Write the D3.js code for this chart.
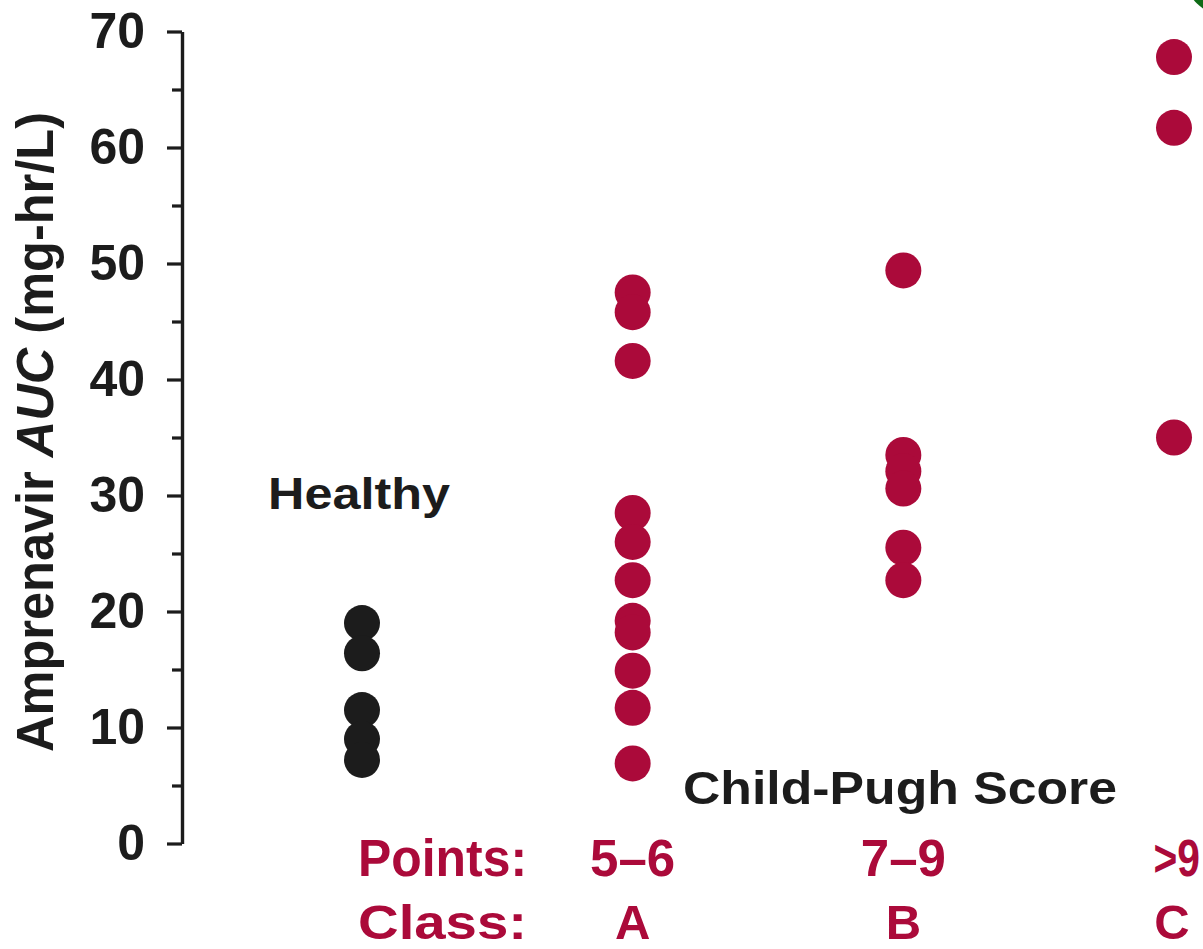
<!DOCTYPE html>
<html>
<head>
<meta charset="utf-8">
<script src="https://cdn.jsdelivr.net/npm/d3@7/dist/d3.min.js"></script>
<style>
  html, body { margin: 0; padding: 0; background: #ffffff; }
  svg { display: block; }
  text { font-family: "Liberation Sans", Arial, Helvetica, sans-serif; font-weight: bold; }
</style>
</head>
<body>
<svg id="chart" width="1203" height="949"></svg>
<script>
// Amprenavir AUC by liver-function group
const groups = ["Healthy", "A", "B", "C"];
const healthyAUC = [19.0, 16.4, 11.5, 9.0, 7.2];
const classA_AUC = [47.5, 45.8, 41.6, 28.5, 26.0, 22.7, 19.2, 18.2, 14.9, 11.7, 6.9];
const classB_AUC = [49.4, 33.5, 32.1, 30.6, 25.5, 22.7];
const classC_AUC = [67.8, 61.7, 35.0];
const pointsLabels = ["5–6", "7–9", ">9"];
const classLabels = ["A", "B", "C"];
const yMajorTicks = [0, 10, 20, 30, 40, 50, 60, 70];
const yMinorTicks = [5, 15, 25, 35, 45, 55, 65];

const RED = "#ab0a3a";
const INK = "#1c1c1c";

const svg = d3.select("#chart");

const x = d3.scalePoint().domain(groups).range([362, 1174]);
const y = d3.scaleLinear().domain([0, 70]).range([843.5, 31.5]);

// flatten values into points
const seriesByGroup = { Healthy: healthyAUC, A: classA_AUC, B: classB_AUC, C: classC_AUC };
const points = [];
groups.forEach(g => seriesByGroup[g].forEach(v => points.push({ group: g, value: v })));

// corner badge
svg.append("circle")
  .attr("cx", 1225).attr("cy", -25).attr("r", 40)
  .attr("fill", "#0e6b16");

// y axis: minor ticks
svg.append("g")
  .attr("transform", "translate(182,0)")
  .call(d3.axisLeft(y).tickValues(yMinorTicks).tickSize(10).tickSizeOuter(0).tickFormat(""))
  .call(g => g.select(".domain").remove())
  .call(g => g.selectAll("line").attr("stroke", INK).attr("stroke-width", 3.2));

// y axis: major ticks and labels
svg.append("g")
  .attr("transform", "translate(182,0)")
  .call(d3.axisLeft(y).tickValues(yMajorTicks).tickSize(15).tickSizeOuter(0).tickPadding(22).tickFormat(d3.format("d")))
  .call(g => g.select(".domain").attr("stroke", INK).attr("stroke-width", 3.4))
  .call(g => g.selectAll("line").attr("stroke", INK).attr("stroke-width", 3.2))
  .call(g => g.selectAll("text")
    .attr("fill", INK)
    .style("font-size", "50px")
    .style("font-weight", "bold")
    .style("font-family", "'Liberation Sans', Arial, sans-serif"));

// y axis title
const yTitle = svg.append("text")
  .attr("transform", "translate(53,432) rotate(-90)")
  .attr("text-anchor", "middle")
  .attr("fill", INK)
  .attr("textLength", 640).attr("lengthAdjust", "spacingAndGlyphs")
  .style("font-size", "51px");
yTitle.append("tspan").text("Amprenavir ");
yTitle.append("tspan").attr("font-style", "italic").text("AUC");
yTitle.append("tspan").text(" (mg-hr/L)");

// dots
svg.append("g")
  .selectAll("circle")
  .data(points)
  .join("circle")
  .attr("cx", d => x(d.group))
  .attr("cy", d => y(d.value))
  .attr("r", 18)
  .attr("fill", d => d.group === "Healthy" ? INK : RED);

// group captions
svg.append("text")
  .attr("x", 268).attr("y", 509)
  .attr("fill", INK)
  .attr("textLength", 182).attr("lengthAdjust", "spacingAndGlyphs")
  .style("font-size", "44px")
  .text("Healthy");

svg.append("text")
  .attr("x", 683).attr("y", 804)
  .attr("fill", INK)
  .attr("textLength", 434).attr("lengthAdjust", "spacingAndGlyphs")
  .style("font-size", "47px")
  .text("Child-Pugh Score");

// row headers
svg.append("text")
  .attr("x", 358).attr("y", 876)
  .attr("fill", RED)
  .attr("textLength", 169).attr("lengthAdjust", "spacingAndGlyphs")
  .style("font-size", "51px")
  .text("Points:");

svg.append("text")
  .attr("x", 358).attr("y", 939)
  .attr("fill", RED)
  .attr("textLength", 169).attr("lengthAdjust", "spacingAndGlyphs")
  .style("font-size", "49px")
  .text("Class:");

// per-class labels; the last one sits against the right edge, condensed
const classGroups = groups.slice(1);
svg.append("g")
  .selectAll("text")
  .data(classGroups)
  .join("text")
  .attr("transform", (d, i) => i === 2
    ? `translate(${x(d) + 26},876) scale(0.8,1)`
    : `translate(${x(d)},876)`)
  .attr("text-anchor", (d, i) => i === 2 ? "end" : "middle")
  .attr("fill", RED)
  .style("font-size", "51px")
  .text((d, i) => pointsLabels[i]);

svg.append("g")
  .selectAll("text")
  .data(classGroups)
  .join("text")
  .attr("x", d => x(d))
  .attr("dx", (d, i) => i === 2 ? -2 : 0)
  .attr("y", 939)
  .attr("text-anchor", "middle")
  .attr("fill", RED)
  .style("font-size", "49px")
  .text((d, i) => classLabels[i]);
</script>
</body>
</html>
